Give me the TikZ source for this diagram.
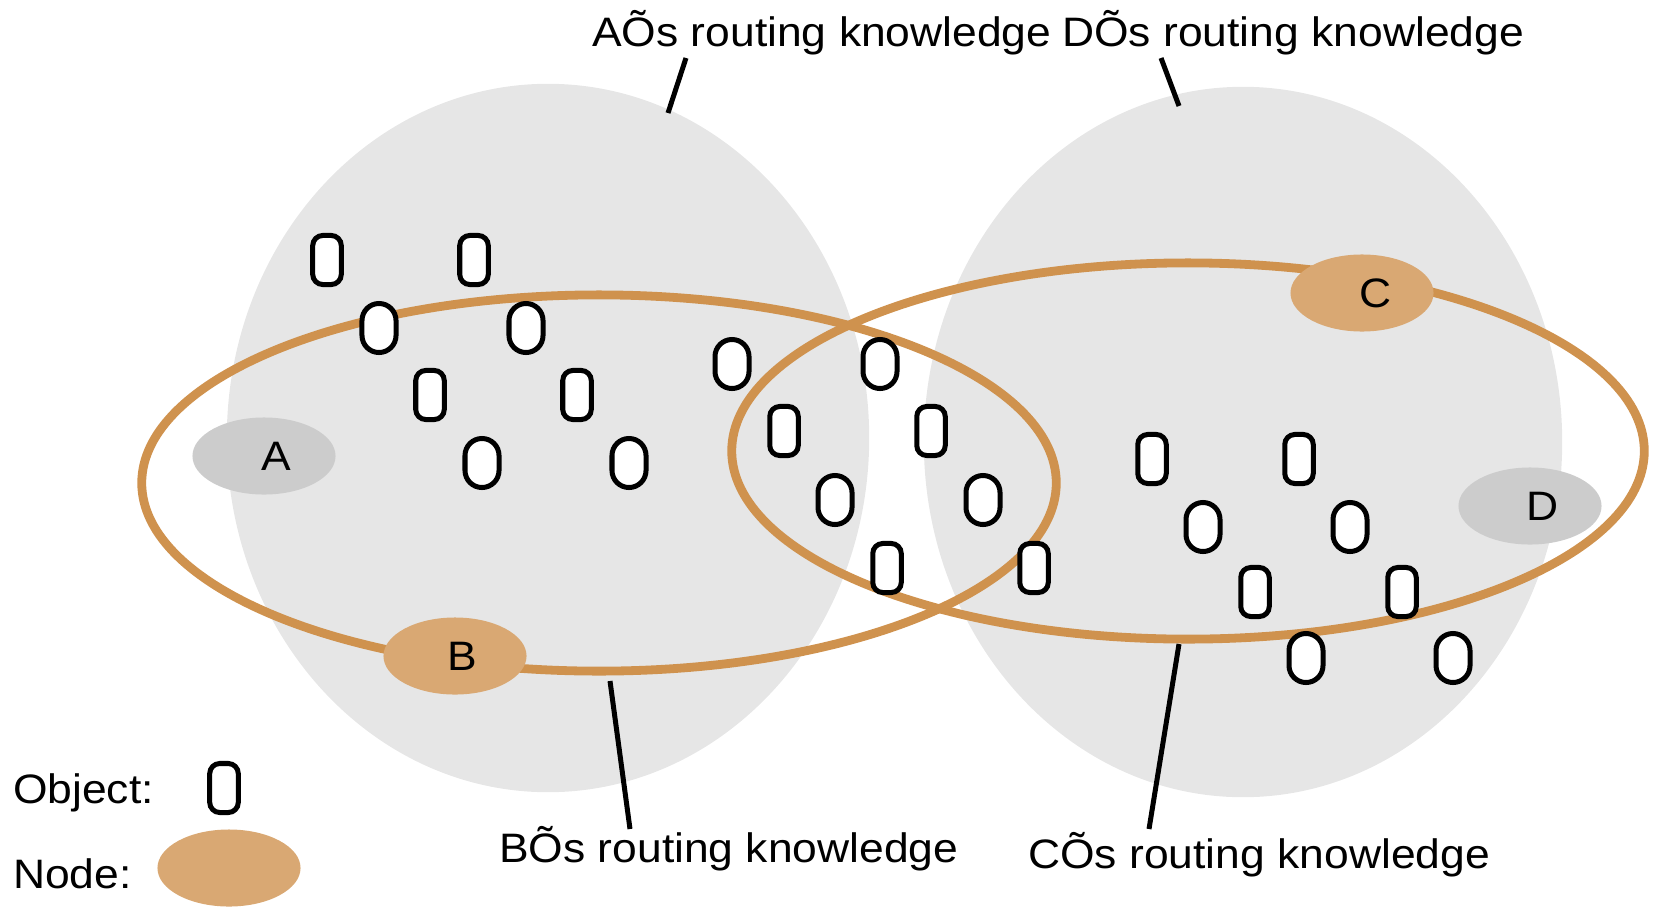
\documentclass[tikz,border=0pt]{standalone}
\usepackage{fontspec}
\setmainfont[FakeStretch=1.08]{Liberation Sans}
\usetikzlibrary{shapes.geometric}

\definecolor{regiongray}{RGB}{230,230,230}
\definecolor{peergray}{RGB}{204,204,204}
\definecolor{ringorange}{RGB}{207,146,78}
\definecolor{peerorange}{RGB}{217,168,115}

\begin{document}
\begin{tikzpicture}[x=0.01cm,y=-0.01cm,
                    font=\fontsize{11.7}{14}\selectfont,
                    semithick]
  \tikzset{region/.style={fill=regiongray},
           ring/.style={draw=ringorange,line width=0.088cm},
           peer/.style={ellipse,minimum width=1.43cm,minimum height=0.77cm,inner sep=0pt},
           objrect/.style={draw,fill=white,line width=0.05cm,rounded corners=0.1cm,
                           minimum width=0.285cm,minimum height=0.49cm,inner sep=0pt},
           objoval/.style={objrect,rounded corners=0.17cm,minimum width=0.34cm,minimum height=0.49cm},
           caption/.style={anchor=base west,inner sep=0pt},
           leader/.style={line width=0.05cm}}

  \useasboundingbox (0,0) rectangle (1655,909);

  % knowledge regions of A and D
  \fill[region] (548,438) ellipse [x radius=3.21cm, y radius=3.54cm];
  \fill[region] (1243,442) ellipse [x radius=3.19cm, y radius=3.55cm];

  \node[peer,fill=peergray,label={[xshift=0.125cm]center:A}] (A) at (264,456) {};
  \node[peer,fill=peergray,label={[xshift=0.13cm]center:D}]  (D) at (1530,506) {};

  % knowledge rings of B and C
  \draw[ring] (599,483) ellipse [x radius=4.57cm, y radius=1.88cm];
  \draw[ring] (1188,451) ellipse [x radius=4.56cm, y radius=1.88cm];

  \node[peer,fill=peerorange,label={[xshift=0.07cm]center:B}] (B) at (455,656) {};
  \node[peer,fill=peerorange,label={[xshift=0.14cm]center:C}] (C) at (1362,293) {};

  % objects
  \foreach \x/\y/\s [count=\n] in {327/260/objrect, 474/260/objrect,
                                   379/328/objoval, 526/328/objoval,
                                   430/395/objrect, 577/395/objrect,
                                   482/463/objoval, 629/463/objoval,
                                   732/364/objoval, 880/364/objoval,
                                   784/431/objrect, 931/431/objrect,
                                   835/500/objoval, 983/500/objoval,
                                   887/568/objrect, 1034/568/objrect,
                                   1152/459/objrect, 1299/459/objrect,
                                   1203/527/objoval, 1350/527/objoval,
                                   1255/592/objrect, 1402/592/objrect,
                                   1306/658/objoval, 1453/658/objoval}
    \node[\s] (o\n) at (\x,\y) {};

  % labels
  \node[caption] (aKnow) at (591,47)  {AÕs routing knowledge};
  \node[caption] (dKnow) at (1061,47) {DÕs routing knowledge};
  \node[caption] (bKnow) at (498,862) {BÕs routing knowledge};
  \node[caption] (cKnow) at (1027,868) {CÕs routing knowledge};

  \coordinate (aTop) at (686,58);   \coordinate (aEnd) at (668,113);
  \coordinate (dTop) at (1161,58);  \coordinate (dEnd) at (1179,106);
  \coordinate (bTop) at (610,681);  \coordinate (bEnd) at (630,829);
  \coordinate (cTop) at (1179,644); \coordinate (cEnd) at (1149,829);

  \draw[leader] (aTop) -- (aEnd);
  \draw[leader] (dTop) -- (dEnd);
  \draw[leader] (bTop) -- (bEnd);
  \draw[leader] (cTop) -- (cEnd);

  % legend
  \node[caption] (objText)  at (12,803) {Object:};
  \node[objrect] (objKey)   at (224,788) {};
  \node[caption] (peerText) at (12,888) {Node:};
  \node[peer,fill=peerorange] (peerKey) at (229,868) {};
\end{tikzpicture}
\end{document}
